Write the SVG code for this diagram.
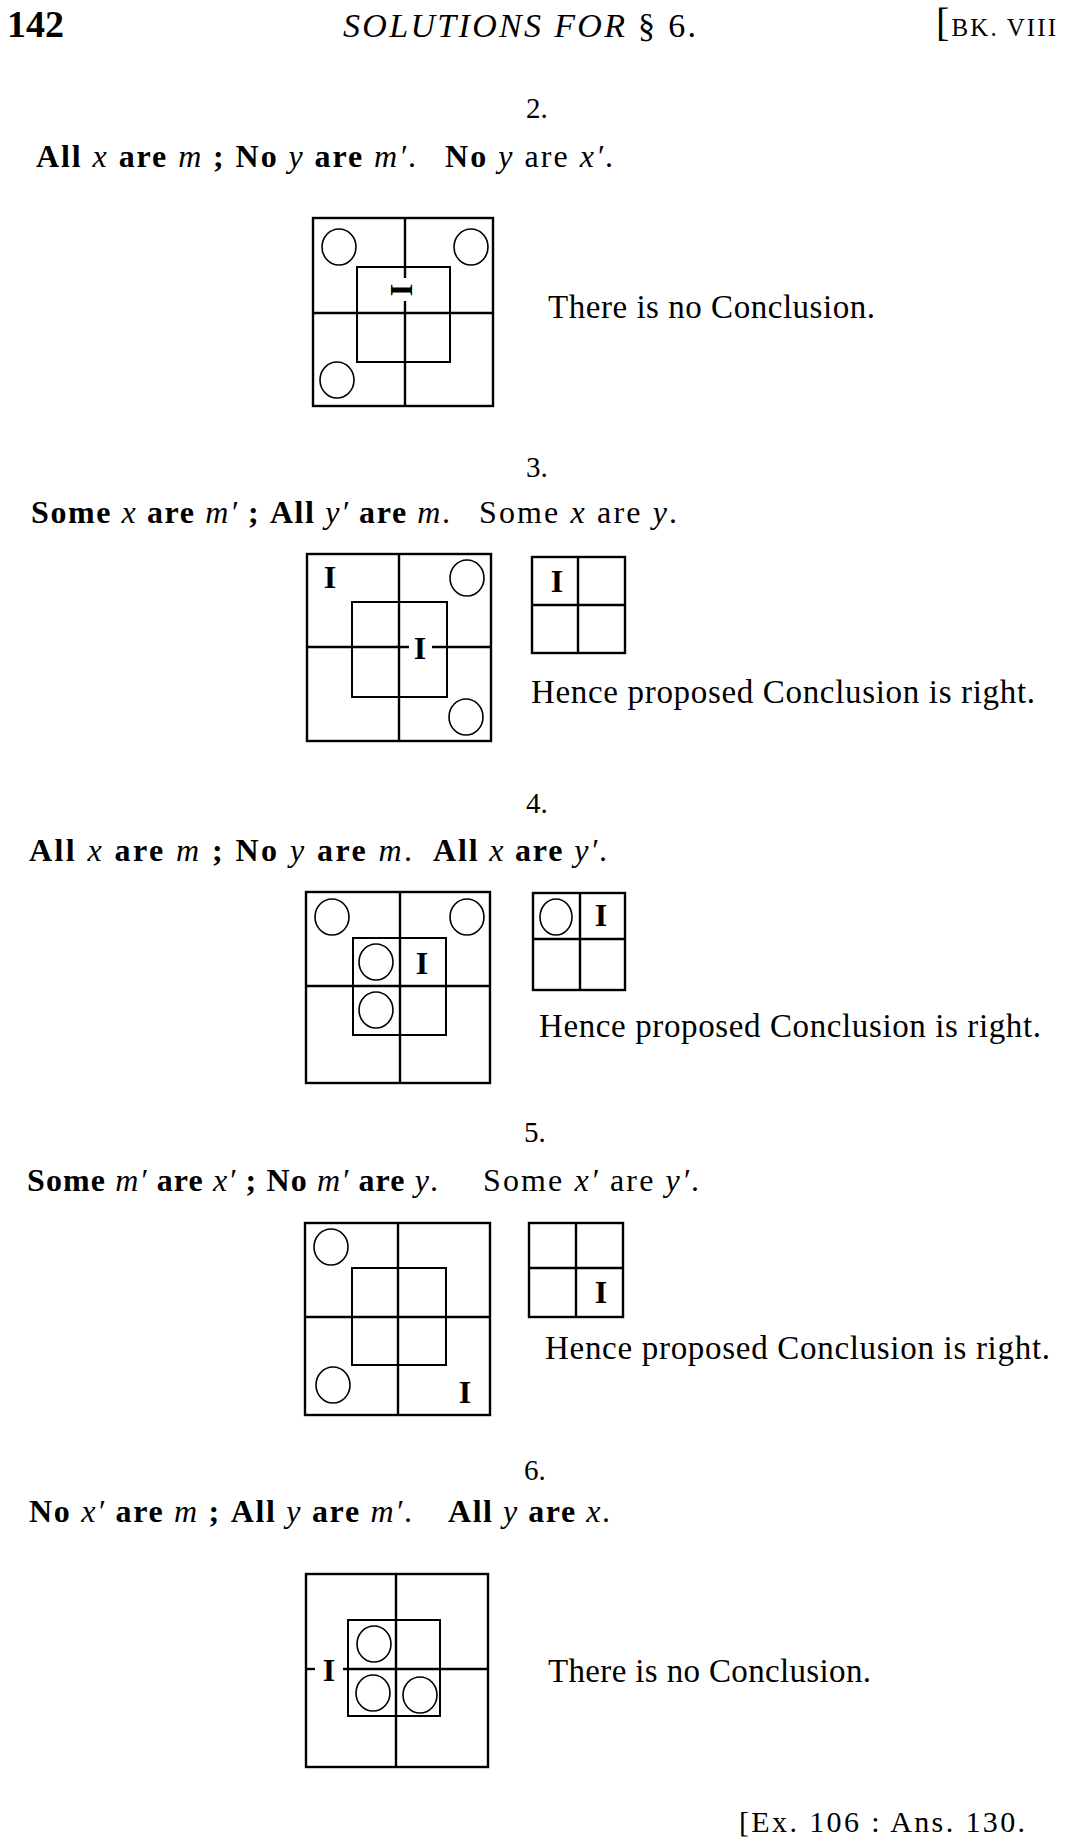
<svg xmlns="http://www.w3.org/2000/svg" width="1066" height="1844" viewBox="0 0 1066 1844">
<style>
text { font-family: "Liberation Serif", "Times New Roman", serif; fill: #000; }
.num { font-size: 29px; }
.ln { font-size: 32px; }
.b { font-weight: bold; }
.i { font-style: italic; }
.txt { font-size: 33px; }
.cell { font-size: 32px; font-weight: bold; text-anchor: middle; dominant-baseline: central; }
.o { stroke: #000; stroke-width: 2.4; fill: none; }
.in { stroke: #000; stroke-width: 2; fill: none; }
.c { stroke: #000; stroke-width: 1.6; fill: none; }
</style>
<rect x="0" y="0" width="1066" height="1844" fill="#fff"/>

<g id="header">
  <text x="7" y="37" font-size="38" class="b">142</text>
  <text x="343" y="37" font-size="34" textLength="353" lengthAdjust="spacing"><tspan class="i">SOLUTIONS FOR </tspan>§ 6.</text>
  <text x="936" y="36" textLength="120" lengthAdjust="spacing"><tspan font-size="40">[</tspan><tspan font-size="25">BK. VIII</tspan></text>
</g>

<!-- Problem 2 -->
<g id="problem-2">
  <text class="num" x="526" y="118">2.</text>
  <text class="ln" x="36" y="167" textLength="380" lengthAdjust="spacing"><tspan class="b">All</tspan> <tspan class="i">x</tspan> <tspan class="b">are</tspan> <tspan class="i">m</tspan> <tspan class="b">;</tspan> <tspan class="b">No</tspan> <tspan class="i">y</tspan> <tspan class="b">are</tspan> <tspan class="i">m′</tspan>.</text>
  <text class="ln" x="445" y="167" textLength="168" lengthAdjust="spacing"><tspan class="b">No</tspan> <tspan class="i">y</tspan> are <tspan class="i">x′</tspan>.</text>
</g>
<g id="diagram-2">
  <rect class="o" x="313" y="218" width="180" height="188"/>
  <line class="o" x1="405" y1="218" x2="405" y2="278"/>
  <line class="o" x1="405" y1="301" x2="405" y2="406"/>
  <line class="o" x1="313" y1="313" x2="493" y2="313"/>
  <rect class="in" x="357" y="267" width="93" height="95"/>
  <ellipse class="c" cx="339" cy="247" rx="17" ry="18"/>
  <ellipse class="c" cx="471" cy="247" rx="17" ry="18"/>
  <ellipse class="c" cx="337" cy="380" rx="17" ry="18"/>
  <text class="cell" transform="translate(402,290) rotate(90)" x="0" y="0">I</text>
</g>
<text id="result-2" class="txt" x="548" y="318" textLength="327" lengthAdjust="spacing">There is no Conclusion.</text>

<!-- Problem 3 -->
<g id="problem-3">
  <text class="num" x="526" y="477">3.</text>
  <text class="ln" x="31" y="523" textLength="419" lengthAdjust="spacing"><tspan class="b">Some</tspan> <tspan class="i">x</tspan> <tspan class="b">are</tspan> <tspan class="i">m′</tspan> <tspan class="b">;</tspan> <tspan class="b">All</tspan> <tspan class="i">y′</tspan> <tspan class="b">are</tspan> <tspan class="i">m</tspan>.</text>
  <text class="ln" x="479" y="523" textLength="198" lengthAdjust="spacing">Some <tspan class="i">x</tspan> are <tspan class="i">y</tspan>.</text>
</g>
<g id="diagram-3">
  <rect class="o" x="307" y="554" width="184" height="187"/>
  <line class="o" x1="399" y1="554" x2="399" y2="741"/>
  <line class="o" x1="307" y1="647" x2="409" y2="647"/>
  <line class="o" x1="432" y1="647" x2="491" y2="647"/>
  <rect class="in" x="352" y="602" width="95" height="95"/>
  <ellipse class="c" cx="467" cy="578" rx="17" ry="18"/>
  <ellipse class="c" cx="466" cy="717" rx="17" ry="18"/>
  <text class="cell" x="330" y="577">I</text>
  <text class="cell" x="420" y="648">I</text>
</g>
<g id="small-3">
  <rect class="o" x="532" y="557" width="93" height="96"/>
  <line class="o" x1="578" y1="557" x2="578" y2="653"/>
  <line class="o" x1="532" y1="605" x2="625" y2="605"/>
  <text class="cell" x="557" y="581">I</text>
</g>
<text id="result-3" class="txt" x="531" y="703" textLength="504" lengthAdjust="spacing">Hence proposed Conclusion is right.</text>

<!-- Problem 4 -->
<g id="problem-4">
  <text class="num" x="526" y="813">4.</text>
  <text class="ln" x="29" y="861" textLength="383" lengthAdjust="spacing"><tspan class="b">All</tspan> <tspan class="i">x</tspan> <tspan class="b">are</tspan> <tspan class="i">m</tspan> <tspan class="b">;</tspan> <tspan class="b">No</tspan> <tspan class="i">y</tspan> <tspan class="b">are</tspan> <tspan class="i">m</tspan>.</text>
  <text class="ln" x="433" y="861" textLength="174" lengthAdjust="spacing"><tspan class="b">All</tspan> <tspan class="i">x</tspan> <tspan class="b">are</tspan> <tspan class="i">y′</tspan>.</text>
</g>
<g id="diagram-4">
  <rect class="o" x="306" y="892" width="184" height="191"/>
  <line class="o" x1="400" y1="892" x2="400" y2="1083"/>
  <line class="o" x1="306" y1="986" x2="490" y2="986"/>
  <rect class="in" x="353" y="938" width="93" height="97"/>
  <ellipse class="c" cx="332" cy="917" rx="17" ry="18"/>
  <ellipse class="c" cx="467" cy="917" rx="17" ry="18"/>
  <ellipse class="c" cx="376" cy="962" rx="17" ry="18"/>
  <ellipse class="c" cx="376" cy="1010" rx="17" ry="18"/>
  <text class="cell" x="422" y="963">I</text>
</g>
<g id="small-4">
  <rect class="o" x="533" y="893" width="92" height="97"/>
  <line class="o" x1="580" y1="893" x2="580" y2="990"/>
  <line class="o" x1="533" y1="939" x2="625" y2="939"/>
  <ellipse class="c" cx="556" cy="917" rx="16" ry="18"/>
  <text class="cell" x="601" y="915">I</text>
</g>
<text id="result-4" class="txt" x="539" y="1037" textLength="502" lengthAdjust="spacing">Hence proposed Conclusion is right.</text>

<!-- Problem 5 -->
<g id="problem-5">
  <text class="num" x="524" y="1142">5.</text>
  <text class="ln" x="27" y="1191" textLength="411" lengthAdjust="spacing"><tspan class="b">Some</tspan> <tspan class="i">m′</tspan> <tspan class="b">are</tspan> <tspan class="i">x′</tspan> <tspan class="b">;</tspan> <tspan class="b">No</tspan> <tspan class="i">m′</tspan> <tspan class="b">are</tspan> <tspan class="i">y</tspan>.</text>
  <text class="ln" x="483" y="1191" textLength="216" lengthAdjust="spacing">Some <tspan class="i">x′</tspan> are <tspan class="i">y′</tspan>.</text>
</g>
<g id="diagram-5">
  <rect class="o" x="305" y="1223" width="185" height="192"/>
  <line class="o" x1="398" y1="1223" x2="398" y2="1415"/>
  <line class="o" x1="305" y1="1317" x2="490" y2="1317"/>
  <rect class="in" x="352" y="1268" width="94" height="97"/>
  <ellipse class="c" cx="331" cy="1247" rx="17" ry="18"/>
  <ellipse class="c" cx="333" cy="1385" rx="17" ry="18"/>
  <text class="cell" x="465" y="1392">I</text>
</g>
<g id="small-5">
  <rect class="o" x="529" y="1223" width="94" height="94"/>
  <line class="o" x1="576" y1="1223" x2="576" y2="1317"/>
  <line class="o" x1="529" y1="1268" x2="623" y2="1268"/>
  <text class="cell" x="601" y="1292">I</text>
</g>
<text id="result-5" class="txt" x="545" y="1359" textLength="505" lengthAdjust="spacing">Hence proposed Conclusion is right.</text>

<!-- Problem 6 -->
<g id="problem-6">
  <text class="num" x="524" y="1480">6.</text>
  <text class="ln" x="29" y="1522" textLength="383" lengthAdjust="spacing"><tspan class="b">No</tspan> <tspan class="i">x′</tspan> <tspan class="b">are</tspan> <tspan class="i">m</tspan> <tspan class="b">;</tspan> <tspan class="b">All</tspan> <tspan class="i">y</tspan> <tspan class="b">are</tspan> <tspan class="i">m′</tspan>.</text>
  <text class="ln" x="448" y="1522" textLength="162" lengthAdjust="spacing"><tspan class="b">All</tspan> <tspan class="i">y</tspan> <tspan class="b">are</tspan> <tspan class="i">x</tspan>.</text>
</g>
<g id="diagram-6">
  <rect class="o" x="306" y="1574" width="182" height="193"/>
  <line class="o" x1="396" y1="1574" x2="396" y2="1767"/>
  <line class="o" x1="306" y1="1669" x2="315" y2="1669"/>
  <line class="o" x1="343" y1="1669" x2="488" y2="1669"/>
  <rect class="in" x="348" y="1620" width="92" height="96"/>
  <ellipse class="c" cx="374" cy="1644" rx="17" ry="18"/>
  <ellipse class="c" cx="373" cy="1693" rx="17" ry="18"/>
  <ellipse class="c" cx="420" cy="1695" rx="17" ry="18"/>
  <text class="cell" x="329" y="1670">I</text>
</g>
<text id="result-6" class="txt" x="548" y="1682" textLength="323" lengthAdjust="spacing">There is no Conclusion.</text>

<text id="footer" x="739" y="1832" font-size="30" textLength="286" lengthAdjust="spacing">[Ex. 106 : Ans. 130.</text>
</svg>
